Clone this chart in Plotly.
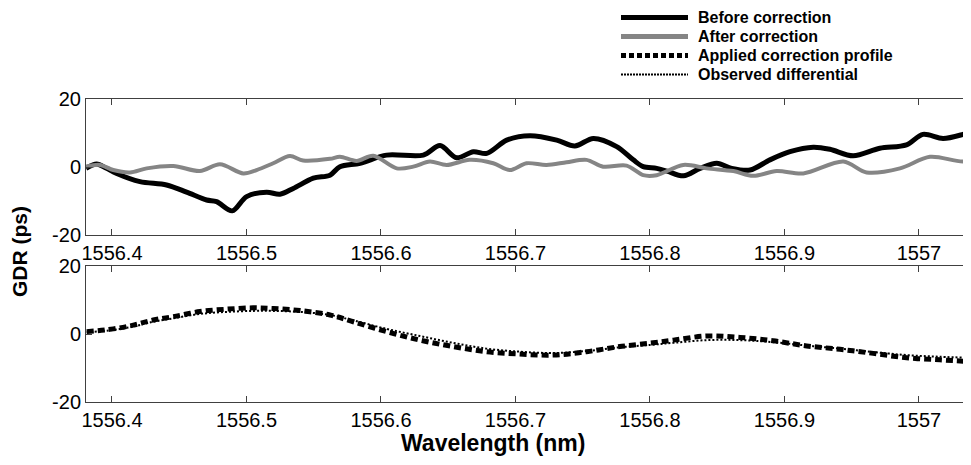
import plotly.graph_objects as go

# ---------------- data ----------------
# Top panel: before / after correction (GDR, ps)
before_wl = [1556.3807, 1556.3886, 1556.3960, 1556.4035, 1556.4208, 1556.4406, 1556.4555, 1556.4704,
             1556.4778, 1556.4894, 1556.5001, 1556.5150, 1556.5249, 1556.5348, 1556.5497, 1556.5621,
             1556.5695, 1556.5845, 1556.6042, 1556.6315, 1556.6439, 1556.6563, 1556.6687, 1556.6786,
             1556.6935, 1556.7108, 1556.7307, 1556.7442, 1556.7579, 1556.7753, 1556.7876, 1556.7950,
             1556.8050, 1556.8126, 1556.8250, 1556.8373, 1556.8497, 1556.8608, 1556.8744, 1556.8892,
             1556.9041, 1556.9214, 1556.9338, 1556.9511, 1556.9709, 1556.9907, 1557.0030, 1557.0179,
             1557.0328, 1557.0477, 1557.0625]
before_gdr = [-0.4, 0.9, -0.4, -1.9, -4.3, -5.3, -7.4, -9.7,
              -10.2, -12.9, -8.7, -7.4, -8.0, -6.3, -3.3, -2.4,
              0.1, 1.1, 3.5, 3.5, 6.3, 2.7, 4.5, 4.0,
              7.9, 9.2, 7.9, 6.2, 8.4, 6.0, 2.1, 0.1,
              -0.4, -1.2, -2.6, -0.4, 1.1, -0.4, -0.9, 2.1,
              4.5, 5.8, 5.2, 3.3, 5.5, 6.5, 9.6, 8.4,
              9.6, 11.6, 10.4]

after_wl = [1556.3807, 1556.3911, 1556.4010, 1556.4134, 1556.4258, 1556.4456, 1556.4654, 1556.4803,
            1556.4977, 1556.5075, 1556.5199, 1556.5323, 1556.5422, 1556.5621, 1556.5695, 1556.5819,
            1556.5943, 1556.6117, 1556.6240, 1556.6364, 1556.6488, 1556.6660, 1556.6835, 1556.6958,
            1556.7082, 1556.7231, 1556.7380, 1556.7528, 1556.7652, 1556.7826, 1556.7950, 1556.8050,
            1556.8248, 1556.8421, 1556.8620, 1556.8768, 1556.8942, 1556.9140, 1556.9438, 1556.9611,
            1556.9859, 1557.0082, 1557.0328, 1557.0625]
after_gdr = [0.1, 0.6, -0.9, -1.6, -0.4, 0.3, -1.2, 0.8,
             -1.9, -0.9, 1.1, 3.2, 1.9, 2.4, 3.0, 1.8,
             3.3, -0.4, 0.1, 1.6, 0.6, 2.1, 1.1, -0.9,
             1.1, 0.6, 1.4, 2.1, 0.1, 0.4, -2.4, -2.4,
             0.6, -0.4, -1.2, -2.6, -1.2, -1.9, 1.6, -1.6,
             -0.4, 3.0, 1.6, 2.7]

# Bottom panel: applied correction profile and observed differential (ps)
profile_wl = [1556.3812, 1556.4010, 1556.4159, 1556.4307, 1556.4456, 1556.4654, 1556.4852, 1556.5050,
              1556.5199, 1556.5398, 1556.5621, 1556.5794, 1556.6042, 1556.6290, 1556.6537, 1556.6785,
              1556.7033, 1556.7281, 1556.7529, 1556.7777, 1556.8000, 1556.8174, 1556.8421, 1556.8669,
              1556.8917, 1556.9165, 1556.9413, 1556.9660, 1556.9908, 1557.0156, 1557.0379]
profile_gdr = [0.7, 1.5, 2.6, 4.1, 5.1, 6.6, 7.3, 7.7,
               7.5, 6.9, 5.6, 3.6, 0.7, -1.8, -3.7, -5.2,
               -5.9, -6.2, -5.2, -3.7, -2.7, -1.8, -0.6, -1.0,
               -2.0, -3.5, -4.5, -5.7, -7.0, -7.6, -8.1]
observed_gdr = [0.5, 1.2, 2.2, 3.6, 4.6, 5.9, 6.5, 6.8,
                6.8, 6.5, 5.6, 4.0, 1.5, -0.6, -2.6, -4.3,
                -5.2, -5.6, -5.0, -3.9, -3.2, -2.6, -1.8, -1.8,
                -2.4, -3.4, -4.3, -5.3, -6.2, -6.7, -7.0]

x_ticks = [1556.4, 1556.5, 1556.6, 1556.7, 1556.8, 1556.9, 1557.0]
x_tick_labels = ["1556.4", "1556.5", "1556.6", "1556.7", "1556.8", "1556.9", "1557"]
y_ticks = [-20, 0, 20]
y_tick_labels = ["-20", "0", "20"]

names = ["Before correction", "After correction", "Applied correction profile", "Observed differential"]

# ---------------- figure ----------------
OFF = 8                     # default page body margin
W, H = 971 - OFF, 465 - OFF
FONT = "Liberation Sans, Arial, sans-serif"
x_range = [1556.3807, 1557.0387]


def px(X):
    return (X - OFF) / W


def py(Y):
    return 1 - (Y - OFF) / H


fig = go.Figure()
fig.add_trace(go.Scatter(x=before_wl, y=before_gdr, mode="lines", name=names[0],
                         line=dict(color="black", width=5, shape="spline", smoothing=0.9),
                         xaxis="x", yaxis="y"))
fig.add_trace(go.Scatter(x=after_wl, y=after_gdr, mode="lines", name=names[1],
                         line=dict(color="#858585", width=4, shape="spline", smoothing=0.9),
                         xaxis="x", yaxis="y"))
fig.add_trace(go.Scatter(x=profile_wl, y=observed_gdr, mode="lines", name=names[3],
                         line=dict(color="black", width=2, dash="2px,2px", shape="spline"),
                         xaxis="x2", yaxis="y2"))
fig.add_trace(go.Scatter(x=profile_wl, y=profile_gdr, mode="lines", name=names[2],
                         line=dict(color="black", width=5, dash="7px,4px", shape="spline"),
                         xaxis="x2", yaxis="y2"))

xdom = [px(86), 1.0]
top_dom = [py(235), py(99)]
bot_dom = [py(402), py(266)]

xaxis_common = dict(range=x_range, tickvals=x_ticks, ticktext=x_tick_labels,
                    ticks="inside", ticklen=6, tickcolor="#404040", showline=True,
                    linecolor="#404040", linewidth=1, mirror="ticks", showgrid=False,
                    zeroline=False, tickfont=dict(family=FONT, size=20, color="black"),
                    domain=xdom, automargin=False)
yaxis_common = dict(range=[-20, 20], tickvals=y_ticks, ticktext=y_tick_labels,
                    ticks="inside", ticklen=6, tickcolor="#404040", showline=True,
                    linecolor="#404040", linewidth=1, showgrid=False, zeroline=False,
                    tickfont=dict(family=FONT, size=20, color="black"), automargin=False)

fig.update_layout(
    width=W, height=H,
    margin=dict(l=0, r=0, t=0, b=0, autoexpand=False),
    paper_bgcolor="white", plot_bgcolor="white",
    showlegend=False,
    xaxis=dict(**xaxis_common, anchor="y"),
    yaxis=dict(**yaxis_common, domain=top_dom, anchor="x"),
    xaxis2=dict(**xaxis_common, anchor="y2"),
    yaxis2=dict(**yaxis_common, domain=bot_dom, anchor="x2"),
)

# custom legend (top right)
legend_styles = [dict(color="black", width=5), dict(color="#858585", width=5),
                 dict(color="black", width=5, dash="5px,3px"), dict(color="black", width=2, dash="2px,1px")]
legend_y = [17.5, 36.5, 55.5, 74.5]
for nm, st, yy in zip(names, legend_styles, legend_y):
    fig.add_shape(type="line", xref="paper", yref="paper",
                  x0=px(621), x1=px(688), y0=py(yy), y1=py(yy), line=st)
    fig.add_annotation(text="<b>%s</b>" % nm, xref="paper", yref="paper",
                       x=px(697), y=py(yy), xanchor="left", yanchor="middle",
                       showarrow=False, borderpad=0,
                       font=dict(family=FONT, size=16, color="black"))

fig.add_annotation(text="<b>GDR (ps)</b>", xref="paper", yref="paper",
                   x=px(19), y=py(252), textangle=-90, showarrow=False,
                   xanchor="center", yanchor="middle",
                   font=dict(family=FONT, size=21, color="black"))
fig.add_annotation(text="<b>Wavelength (nm)</b>", xref="paper", yref="paper",
                   x=px(493), y=py(443), showarrow=False,
                   xanchor="center", yanchor="middle",
                   font=dict(family=FONT, size=23, color="black"))

fig.write_html("out.html")
